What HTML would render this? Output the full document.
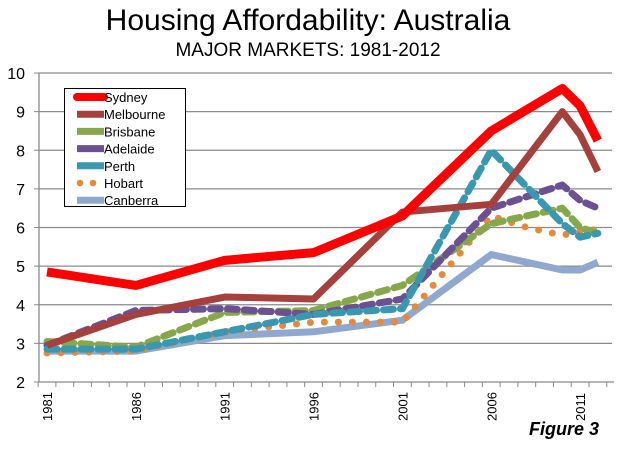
<!DOCTYPE html>
<html><head><meta charset="utf-8"><style>
body{margin:0;background:#fff;font-family:"Liberation Sans",sans-serif}
</style></head><body>
<svg width="617" height="445" viewBox="0 0 617 445" font-family="Liberation Sans, sans-serif">
<text x="308" y="30" text-anchor="middle" font-size="30">Housing Affordability: Australia</text>
<text x="308" y="56" text-anchor="middle" font-size="19">MAJOR MARKETS: 1981-2012</text>
<g id="grid"></g><g id="axes"></g><g id="series"></g>
<g id="legend"></g>
<text x="599" y="435" text-anchor="end" font-size="18" font-weight="bold" font-style="italic">Figure 3</text>
</svg>
<script>
const yTicks=[2,3,4,5,6,7,8,9,10];
const xLabels=[1981,1986,1991,1996,2001,2006,2011];
const seriesNames=["Sydney","Melbourne","Brisbane","Adelaide","Perth","Hobart","Canberra"];
const sydneyYears=[1981,1986,1991,1996,2001,2006,2010,2011,2012];
const sydneyVals=[4.85,4.5,5.15,5.35,6.3,8.5,9.6,9.15,8.25];
const melbourneYears=[1981,1986,1991,1996,2001,2006,2010,2011,2012];
const melbourneVals=[2.95,3.75,4.2,4.15,6.4,6.6,9.0,8.4,7.45];
const brisbaneYears=[1981,1986,1991,1996,2001,2006,2010,2011,2012];
const brisbaneVals=[3.05,2.9,3.8,3.85,4.5,6.1,6.5,6.0,5.85];
const adelaideYears=[1981,1986,1991,1996,2001,2006,2010,2011,2012];
const adelaideVals=[2.95,3.85,3.9,3.75,4.15,6.5,7.1,6.7,6.5];
const perthYears=[1981,1986,1991,1996,2001,2006,2010,2011,2012];
const perthVals=[2.85,2.85,3.3,3.75,3.9,8.0,6.1,5.75,5.85];
const hobartYears=[1981,1986,1991,1996,2001,2006,2007,2008,2009,2010,2011,2012];
const hobartVals=[2.75,2.8,3.3,3.55,3.55,6.3,6.15,6.0,5.9,5.8,5.9,5.95];
const canberraYears=[1981,1986,1991,1996,2001,2006,2010,2011,2012];
const canberraVals=[2.8,2.8,3.2,3.3,3.6,5.3,4.9,4.9,5.1];

const NS="http://www.w3.org/2000/svg";
const x0=47,step=17.77,yTop=73,yBot=382,yMin=2,yMax=10;
const X=yr=>x0+(yr-1981)*step;
const Y=v=>yBot-(v-yMin)/(yMax-yMin)*(yBot-yTop);
function mk(tag,attrs,parent){const e=document.createElementNS(NS,tag);for(const k in attrs)e.setAttribute(k,attrs[k]);parent.appendChild(e);return e;}
const grid=document.getElementById('grid'),axes=document.getElementById('axes'),ser=document.getElementById('series'),leg=document.getElementById('legend');
yTicks.forEach(t=>{
  if(t>yMin){const l=mk('line',{x1:39,x2:612,y1:Y(t),y2:Y(t),stroke:'#8a8a8a','stroke-width':1.3},grid);
  
  }
  mk('line',{x1:34,x2:39,y1:Y(t),y2:Y(t),stroke:'#8a8a8a'},axes);
  const tx=mk('text',{x:25,y:Y(t)+6,'text-anchor':'end','font-size':16},axes);tx.textContent=t;
  
  
});
const ya=mk('line',{x1:39,x2:39,y1:yTop,y2:yBot,stroke:'#8a8a8a','stroke-width':1.3},axes);


const xa=mk('line',{x1:39,x2:614,y1:yBot,y2:yBot,stroke:'#8a8a8a','stroke-width':1.3},axes);


for(let i=0;i<=32;i++){mk('line',{x1:x0-step/2+i*step,x2:x0-step/2+i*step,y1:yBot,y2:yBot+5,stroke:'#8a8a8a'},axes);}
xLabels.forEach(yr=>{
  const tx=mk('text',{transform:`translate(${X(yr)+5},${yBot+39}) rotate(-90)`,'font-size':13},axes);tx.textContent=yr;
  
  
});
const styles=[
 {c:'#ff0000',w:9,d:null},
 {c:'#a5403c',w:7,d:null},
 {c:'#86a84a',w:7,d:'10 7'},
 {c:'#6c5192',w:7,d:'10 7'},
 {c:'#3a97b0',w:7,d:'10 7'},
 {c:'#e58a3c',w:7,d:'0 14'},
 {c:'#8ea8d0',w:7,d:null}];
const data=[[sydneyYears,sydneyVals],[melbourneYears,melbourneVals],[brisbaneYears,brisbaneVals],[adelaideYears,adelaideVals],[perthYears,perthVals],[hobartYears,hobartVals],[canberraYears,canberraVals]];
const order=[6,5,2,3,4,1,0];
order.forEach(i=>{
  const [yrs,vals]=data[i],s=styles[i];
  const pts=yrs.map((yr,j)=>X(yr)+','+Y(vals[j])).join(' ');
  const a={points:pts,fill:'none',stroke:s.c,'stroke-width':s.w,'stroke-linejoin':'round','stroke-linecap':s.d?'round':'butt'};
  if(s.d)a['stroke-dasharray']=s.d;
  const p=mk('polyline',a,ser);
  
  
});
const box=mk('rect',{x:64.5,y:88.5,width:121,height:118,fill:'#fff',stroke:'#000','stroke-width':1},leg);


seriesNames.forEach((n,i)=>{
  const cy=97+i*17.2,s=styles[i];
  if(i===5){mk('circle',{cx:80,cy:cy,r:3.3,fill:s.c},leg);mk('circle',{cx:93,cy:cy,r:3.3,fill:s.c},leg);}
  else mk('line',{x1:77,x2:104,y1:cy,y2:cy,stroke:s.c,'stroke-width':i===0?8:7,'stroke-linecap':i===0?'round':'butt'},leg);
  const t=mk('text',{x:104,y:cy+5,'font-size':13},leg);t.textContent=n;
  
  
});
</script>
</body></html>
